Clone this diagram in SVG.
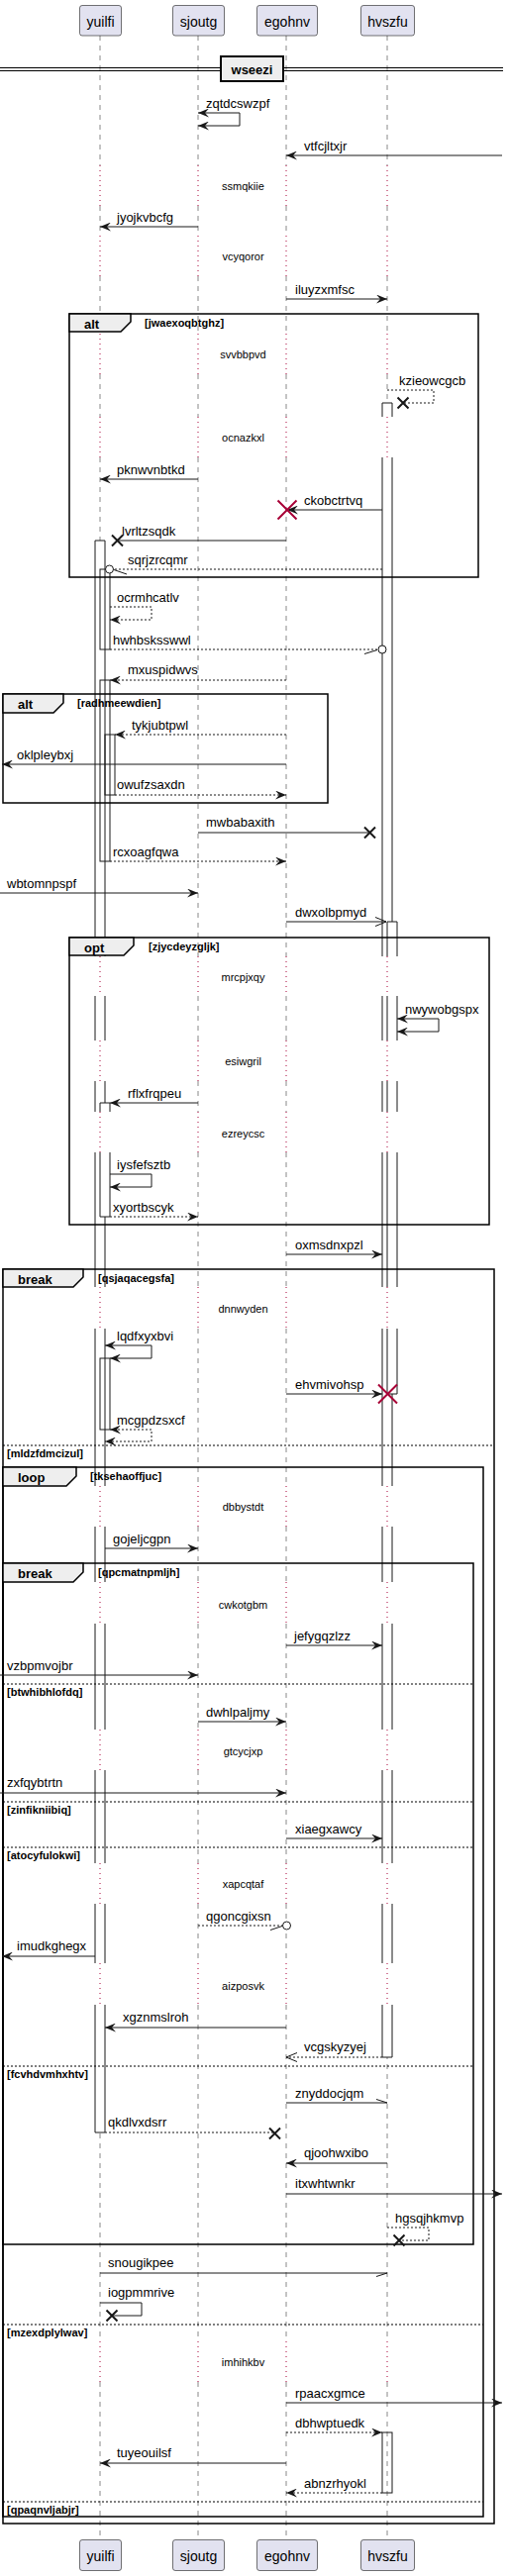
<svg xmlns="http://www.w3.org/2000/svg" xmlns:xlink="http://www.w3.org/1999/xlink" width="514" height="2602" viewBox="0 0 514 2602">
<style>
text{font-family:'Liberation Sans',Arial,sans-serif;fill:#000}
.pn{font-size:14px;text-anchor:middle}
.t{font-size:13px}
.dt{font-size:11px;text-anchor:middle}
.g{font-size:11px;font-weight:bold}
.tl{font-size:13px;font-weight:bold}
.pb{fill:#E2E2F0;stroke:#181818;stroke-width:0.6}
.ll{fill:none;stroke:#888;stroke-width:1;stroke-dasharray:5,5}
.dl{fill:none;stroke:#A80036;stroke-width:1;stroke-dasharray:1,4}
.af{fill:#fff;stroke:none}
.al{fill:none;stroke:#181818;stroke-width:1}
.fr{fill:none;stroke:#000;stroke-width:1.5}
.tab{fill:#EEEEEE;stroke:#000;stroke-width:1.5}
.sep{fill:none;stroke:#000;stroke-width:1;stroke-dasharray:2,2}
.m{fill:none;stroke:#181818;stroke-width:1}
.d{stroke-dasharray:2,2}
.x{fill:none;stroke:#181818;stroke-width:2}
.rx{fill:none;stroke:#A80036;stroke-width:2}
.oc{fill:#fff;stroke:#181818;stroke-width:1}
</style>
<defs>
<marker id="ah" viewBox="0 0 11 9" refX="11" refY="4.5" markerWidth="11" markerHeight="9" markerUnits="userSpaceOnUse" orient="auto"><path d="M0,0L11,4.5L0,9L4,4.5Z" fill="#181818"/></marker>
<marker id="ahs" viewBox="0 0 11 9" refX="11" refY="4.5" markerWidth="11" markerHeight="9" markerUnits="userSpaceOnUse" orient="auto-start-reverse"><path d="M0,0L11,4.5L0,9L4,4.5Z" fill="#181818"/></marker>
<marker id="ao" viewBox="-1 -1 13 11" refX="11" refY="4.5" markerWidth="13" markerHeight="11" markerUnits="userSpaceOnUse" orient="auto"><path d="M0,0L11,4.5L0,9" fill="none" stroke="#181818" stroke-width="1" stroke-dasharray="none"/></marker>
<path id="lld" d="M0,36V167M0,208V238M0,279V337M0,378V421M0,462V966M0,1006V1051M0,1092V1123M0,1164V1300M0,1342V1501M0,1542V1598M0,1640V1747M0,1788V1882M0,1923V1983M0,2025V2365M0,2406V2565"/>
<path id="lldot" d="M0,167V208M0,238V279M0,337V378M0,421V462M0,966V1006M0,1051V1092M0,1123V1164M0,1300V1342M0,1501V1542M0,1598V1640M0,1747V1788M0,1882V1923M0,1983V2025M0,2365V2406"/>
</defs>
<rect width="514" height="2602" fill="#fff"/>

<g id="lifelines">
<use xlink:href="#lld" href="#lld" class="ll" x="101"/>
<use xlink:href="#lld" href="#lld" class="ll" x="200"/>
<use xlink:href="#lld" href="#lld" class="ll" x="289"/>
<use xlink:href="#lld" href="#lld" class="ll" x="391"/>
<use xlink:href="#lldot" href="#lldot" class="dl" x="101"/>
<use xlink:href="#lldot" href="#lldot" class="dl" x="200"/>
<use xlink:href="#lldot" href="#lldot" class="dl" x="289"/>
<use xlink:href="#lldot" href="#lldot" class="dl" x="391"/>
</g>

<g id="p-yuilfi"><rect class="pb" x="80.5" y="5.5" width="42" height="30.5" rx="2.5"/><text class="pn" x="101.5" y="27">yuilfi</text><rect class="pb" x="80.5" y="2565.5" width="42" height="31" rx="2.5"/><text class="pn" x="101.5" y="2587">yuilfi</text></g>
<g id="p-sjoutg"><rect class="pb" x="174.5" y="5.5" width="52" height="30.5" rx="2.5"/><text class="pn" x="200.5" y="27">sjoutg</text><rect class="pb" x="174.5" y="2565.5" width="52" height="31" rx="2.5"/><text class="pn" x="200.5" y="2587">sjoutg</text></g>
<g id="p-egohnv"><rect class="pb" x="259.5" y="5.5" width="61" height="30.5" rx="2.5"/><text class="pn" x="290" y="27">egohnv</text><rect class="pb" x="259.5" y="2565.5" width="61" height="31" rx="2.5"/><text class="pn" x="290" y="2587">egohnv</text></g>
<g id="p-hvszfu"><rect class="pb" x="364.5" y="5.5" width="54" height="30.5" rx="2.5"/><text class="pn" x="391.5" y="27">hvszfu</text><rect class="pb" x="364.5" y="2565.5" width="54" height="31" rx="2.5"/><text class="pn" x="391.5" y="2587">hvszfu</text></g>

<g id="activations">
<g id="act-yuilfi-1">
<rect class="af" x="96" y="546" width="10" height="420"/><rect class="af" x="96" y="1006" width="10" height="45"/><rect class="af" x="96" y="1092" width="10" height="31"/><rect class="af" x="96" y="1164" width="10" height="136"/><rect class="af" x="96" y="1342" width="10" height="159"/><rect class="af" x="96" y="1542" width="10" height="56"/><rect class="af" x="96" y="1640" width="10" height="107"/><rect class="af" x="96" y="1788" width="10" height="94"/><rect class="af" x="96" y="1923" width="10" height="60"/><rect class="af" x="96" y="2025" width="10" height="129"/>
<path class="al" d="M96,966V546H106V966M96,1006V1051M106,1006V1051M96,1092V1123M106,1092V1123M96,1164V1300M106,1164V1300M96,1342V1501M106,1342V1501M96,1542V1598M106,1542V1598M96,1640V1747M106,1640V1747M96,1788V1882M106,1788V1882M96,1923V1983M106,1923V1983M96,2025V2154H106V2025"/>
</g>
<g id="act-yuilfi-2">
<rect class="af al" x="101" y="575" width="10" height="81"/>
<rect class="af al" x="101" y="687" width="10" height="183"/>
<rect class="af" x="101" y="1114" width="10" height="9"/><rect class="af" x="101" y="1164" width="10" height="65"/>
<path class="al" d="M101,1123V1114H111V1123M101,1164V1229H111V1164"/>
<rect class="af al" x="101" y="1372" width="10" height="72"/>
</g>
<g id="act-yuilfi-3"><rect class="af al" x="106" y="742" width="10" height="61"/></g>
<g id="act-hvszfu-1">
<rect class="af" x="386" y="407" width="10" height="14"/><rect class="af" x="386" y="462" width="10" height="504"/><rect class="af" x="386" y="1006" width="10" height="45"/><rect class="af" x="386" y="1092" width="10" height="31"/><rect class="af" x="386" y="1164" width="10" height="136"/><rect class="af" x="386" y="1342" width="10" height="159"/><rect class="af" x="386" y="1542" width="10" height="56"/><rect class="af" x="386" y="1640" width="10" height="107"/><rect class="af" x="386" y="1788" width="10" height="94"/><rect class="af" x="386" y="1923" width="10" height="60"/><rect class="af" x="386" y="2025" width="10" height="53"/>
<path class="al" d="M386,421V407H396V421M386,462V966M396,462V966M386,1006V1051M396,1006V1051M386,1092V1123M396,1092V1123M386,1164V1300M396,1164V1300M386,1342V1501M396,1342V1501M386,1542V1598M396,1542V1598M386,1640V1747M396,1640V1747M386,1788V1882M396,1788V1882M386,1923V1983M396,1923V1983M386,2025V2078H396V2025"/>
</g>
<g id="act-hvszfu-2">
<rect class="af" x="391" y="931" width="10" height="35"/><rect class="af" x="391" y="1006" width="10" height="45"/><rect class="af" x="391" y="1092" width="10" height="31"/><rect class="af" x="391" y="1164" width="10" height="136"/><rect class="af" x="391" y="1342" width="10" height="66"/>
<path class="al" d="M391,966V931H401V966M391,1006V1051M401,1006V1051M391,1092V1123M401,1092V1123M391,1164V1300M401,1164V1300M391,1342V1408H401V1342"/>
</g>
<g id="act-hvszfu-3"><rect class="af al" x="386" y="2457" width="10" height="61"/></g>
</g>

<g id="divider">
<path d="M0,68.5H508M0,71.5H508" stroke="#000" stroke-width="1.2" fill="none"/>
<rect x="223" y="57" width="63" height="25" fill="#EEEEEE" stroke="#000" stroke-width="2"/>
<text class="tl" x="254.5" y="75" text-anchor="middle">wseezi</text>
</g>

<g id="frames">
<g id="f-alt1"><rect class="fr" x="70" y="317" width="413" height="266"/><path class="tab" d="M70,317H132V325L122,335H70Z"/><text class="tl" x="85" y="332">alt</text><text class="g" x="146" y="330">[jwaexoqbtghz]</text></g>
<g id="f-alt2"><rect class="fr" x="3" y="701" width="328" height="110"/><path class="tab" d="M3,701H64V710L54,720H3Z"/><text class="tl" x="18" y="716">alt</text><text class="g" x="78" y="714">[radhmeewdien]</text></g>
<g id="f-opt"><rect class="fr" x="70" y="947" width="424" height="290"/><path class="tab" d="M70,947H135V955L125,965H70Z"/><text class="tl" x="85" y="962">opt</text><text class="g" x="150" y="960">[zjycdeyzgljk]</text></g>
<g id="f-break1"><rect class="fr" x="3" y="1282" width="496" height="1267"/><path class="tab" d="M3,1282H84V1290L74,1300H3Z"/><text class="tl" x="18" y="1297">break</text><text class="g" x="99" y="1295">[qsjaqacegsfa]</text>
<path class="sep" d="M3,1460H499"/><text class="g" x="7" y="1472">[mldzfdmcizul]</text></g>
<g id="f-loop"><rect class="fr" x="3" y="1482" width="485" height="1060"/><path class="tab" d="M3,1482H77V1491L67,1501H3Z"/><text class="tl" x="18" y="1497">loop</text><text class="g" x="91" y="1495">[tksehaoffjuc]</text>
<path class="sep" d="M3,2348H488M3,2527H488"/><text class="g" x="7" y="2360">[mzexdplylwav]</text><text class="g" x="7" y="2539">[qpaqnvljabjr]</text></g>
<g id="f-break2"><rect class="fr" x="3" y="1579" width="475" height="688"/><path class="tab" d="M3,1579H84V1588L74,1598H3Z"/><text class="tl" x="18" y="1594">break</text><text class="g" x="99" y="1592">[qpcmatnpmljh]</text>
<path class="sep" d="M3,1701H478M3,1820H478M3,1866H478M3,2087H478"/><text class="g" x="7" y="1713">[btwhibhlofdq]</text><text class="g" x="7" y="1832">[zinfikniibiq]</text><text class="g" x="7" y="1878">[atocyfulokwi]</text><text class="g" x="7" y="2099">[fcvhdvmhxhtv]</text></g>
</g>

<g id="delays">
<text class="dt" x="245.5" y="192">ssmqkiie</text>
<text class="dt" x="245.5" y="263">vcyqoror</text>
<text class="dt" x="245.5" y="362">svvbbpvd</text>
<text class="dt" x="245.5" y="446">ocnazkxl</text>
<text class="dt" x="245.5" y="991">mrcpjxqy</text>
<text class="dt" x="245.5" y="1076">esiwgril</text>
<text class="dt" x="245.5" y="1149">ezreycsc</text>
<text class="dt" x="245.5" y="1326">dnnwyden</text>
<text class="dt" x="245.5" y="1526">dbbystdt</text>
<text class="dt" x="245.5" y="1625">cwkotgbm</text>
<text class="dt" x="245.5" y="1773">gtcycjxp</text>
<text class="dt" x="245.5" y="1907">xapcqtaf</text>
<text class="dt" x="245.5" y="2010">aizposvk</text>
<text class="dt" x="245.5" y="2390">imhihkbv</text>
</g>

<g id="connectors">
<path class="m" d="M200,114H242V127H200" marker-start="url(#ahs)" marker-end="url(#ah)"/>
<path class="m" d="M507,157H289" marker-end="url(#ah)"/>
<path class="m" d="M200,229H101" marker-end="url(#ah)"/>
<path class="m" d="M289,302H391" marker-end="url(#ah)"/>
<path class="m d" d="M391,394H438V407H407"/><path class="x" d="M401.5,401.5L412.5,412.5M401.5,412.5L412.5,401.5"/>
<path class="m" d="M200,484H101" marker-end="url(#ah)"/>
<path class="m" d="M386,515H290" marker-end="url(#ah)"/><path class="rx" d="M280.5,505.5L299.5,524.5M280.5,524.5L299.5,505.5"/>
<path class="m" d="M289,546H118"/><path class="x" d="M113,540.5L124,551.5M113,551.5L124,540.5"/>
<path class="m d" d="M386,575H115"/><path class="m" d="M128,580L115,575.5"/><circle class="oc" cx="110.5" cy="575" r="4"/>
<path class="m d" d="M111,613H153V626H111" marker-end="url(#ah)"/>
<path class="m d" d="M111,656H382"/><path class="m" d="M368,660.5L381,656.5"/><circle class="oc" cx="386" cy="656" r="4"/>
<path class="m d" d="M289,687H111" marker-end="url(#ah)"/>
<path class="m d" d="M289,742H116" marker-end="url(#ah)"/>
<path class="m" d="M289,772H2" marker-end="url(#ah)"/>
<path class="m d" d="M116,803H289" marker-end="url(#ah)"/>
<path class="m" d="M200,841H373"/><path class="x" d="M368,835.5L379,846.5M368,846.5L379,835.5"/>
<path class="m d" d="M111,870H289" marker-end="url(#ah)"/>
<path class="m" d="M0,902H200" marker-end="url(#ah)"/>
<path class="m" d="M289,931H390" marker-end="url(#ao)"/>
<path class="m" d="M401,1029H443V1042H401" marker-start="url(#ahs)" marker-end="url(#ah)"/>
<path class="m" d="M200,1114H111" marker-end="url(#ah)"/>
<path class="m" d="M111,1186H153V1199H111" marker-end="url(#ah)"/>
<path class="m d" d="M111,1229H200" marker-end="url(#ah)"/>
<path class="m" d="M289,1267H386" marker-end="url(#ah)"/>
<path class="m" d="M106,1359H153V1372H111" marker-start="url(#ahs)" marker-end="url(#ah)"/>
<path class="m" d="M289,1408H386" marker-end="url(#ah)"/><path class="rx" d="M382,1398.5L401,1417.5M382,1417.5L401,1398.5"/>
<path class="m d" d="M111,1444H153V1456H106" marker-start="url(#ahs)" marker-end="url(#ah)"/>
<path class="m" d="M106,1564H200" marker-end="url(#ah)"/>
<path class="m" d="M289,1662H386" marker-end="url(#ah)"/>
<path class="m" d="M0,1692H200" marker-end="url(#ah)"/>
<path class="m" d="M200,1739H289" marker-end="url(#ah)"/>
<path class="m" d="M0,1811H289" marker-end="url(#ah)"/>
<path class="m" d="M289,1857H386" marker-end="url(#ah)"/>
<path class="m d" d="M200,1945H285"/><path class="m" d="M273,1949.5L285,1945.5"/><circle class="oc" cx="289.5" cy="1945" r="4"/>
<path class="m" d="M96,1976H2" marker-end="url(#ah)"/>
<path class="m" d="M289,2048H106" marker-end="url(#ah)"/>
<path class="m d" d="M386,2078H289" marker-end="url(#ao)"/>
<path class="m" d="M289,2124H391M380,2120.5L391,2124"/>
<path class="m d" d="M106,2154H277"/><path class="x" d="M272,2149.5L283,2160.5M272,2160.5L283,2149.5"/>
<path class="m" d="M391,2185H289" marker-end="url(#ah)"/>
<path class="m" d="M289,2216H507" marker-end="url(#ah)"/>
<path class="m d" d="M391,2250H433V2263H403"/><path class="x" d="M397.5,2257.5L408.5,2268.5M397.5,2268.5L408.5,2257.5"/>
<path class="m" d="M101,2296H391M380,2299.5L391,2296"/>
<path class="m" d="M101,2326H143V2339H113"/><path class="x" d="M107.5,2333.5L118.5,2344.5M107.5,2344.5L118.5,2333.5"/>
<path class="m" d="M289,2427H507" marker-end="url(#ah)"/>
<path class="m d" d="M289,2457H386" marker-end="url(#ah)"/>
<path class="m" d="M289,2488H101" marker-end="url(#ah)"/>
<path class="m d" d="M386,2518H289" marker-end="url(#ah)"/>
</g>

<g id="labels">
<text class="t" x="208" y="109">zqtdcswzpf</text>
<text class="t" x="307" y="152">vtfcjltxjr</text>
<text class="t" x="118" y="224">jyojkvbcfg</text>
<text class="t" x="298" y="297">iluyzxmfsc</text>
<text class="t" x="403" y="389">kzieowcgcb</text>
<text class="t" x="118" y="479">pknwvnbtkd</text>
<text class="t" x="307" y="510">ckobctrtvq</text>
<text class="t" x="123" y="541">lvrltzsqdk</text>
<text class="t" x="129" y="570">sqrjzrcqmr</text>
<text class="t" x="118" y="608">ocrmhcatlv</text>
<text class="t" x="114" y="651">hwhbsksswwl</text>
<text class="t" x="129" y="681">mxuspidwvs</text>
<text class="t" x="133" y="737">tykjubtpwl</text>
<text class="t" x="17" y="767">oklpleybxj</text>
<text class="t" x="118" y="797">owufzsaxdn</text>
<text class="t" x="208" y="835">mwbabaxith</text>
<text class="t" x="114" y="865">rcxoagfqwa</text>
<text class="t" x="7" y="897">wbtomnpspf</text>
<text class="t" x="298" y="926">dwxolbpmyd</text>
<text class="t" x="409" y="1024">nwywobgspx</text>
<text class="t" x="129" y="1109">rflxfrqpeu</text>
<text class="t" x="118" y="1181">iysfefsztb</text>
<text class="t" x="114" y="1224">xyortbscyk</text>
<text class="t" x="298" y="1262">oxmsdnxpzl</text>
<text class="t" x="118" y="1354">lqdfxyxbvi</text>
<text class="t" x="298" y="1403">ehvmivohsp</text>
<text class="t" x="118" y="1439">mcgpdzsxcf</text>
<text class="t" x="114" y="1559">gojeljcgpn</text>
<text class="t" x="297" y="1657">jefygqzlzz</text>
<text class="t" x="7" y="1687">vzbpmvojbr</text>
<text class="t" x="208" y="1734">dwhlpaljmy</text>
<text class="t" x="7" y="1805">zxfqybtrtn</text>
<text class="t" x="298" y="1852">xiaegxawcy</text>
<text class="t" x="208" y="1940">qgoncgixsn</text>
<text class="t" x="17" y="1970">imudkghegx</text>
<text class="t" x="124" y="2042">xgznmslroh</text>
<text class="t" x="307" y="2072">vcgskyzyej</text>
<text class="t" x="298" y="2119">znyddocjqm</text>
<text class="t" x="109" y="2148">qkdlvxdsrr</text>
<text class="t" x="307" y="2179">qjoohwxibo</text>
<text class="t" x="298" y="2210">itxwhtwnkr</text>
<text class="t" x="399" y="2245">hgsqjhkmvp</text>
<text class="t" x="109" y="2290">snougikpee</text>
<text class="t" x="109" y="2320">iogpmmrive</text>
<text class="t" x="298" y="2422">rpaacxgmce</text>
<text class="t" x="298" y="2452">dbhwptuedk</text>
<text class="t" x="118" y="2482">tuyeouilsf</text>
<text class="t" x="307" y="2513">abnzrhyokl</text>
</g>
</svg>
